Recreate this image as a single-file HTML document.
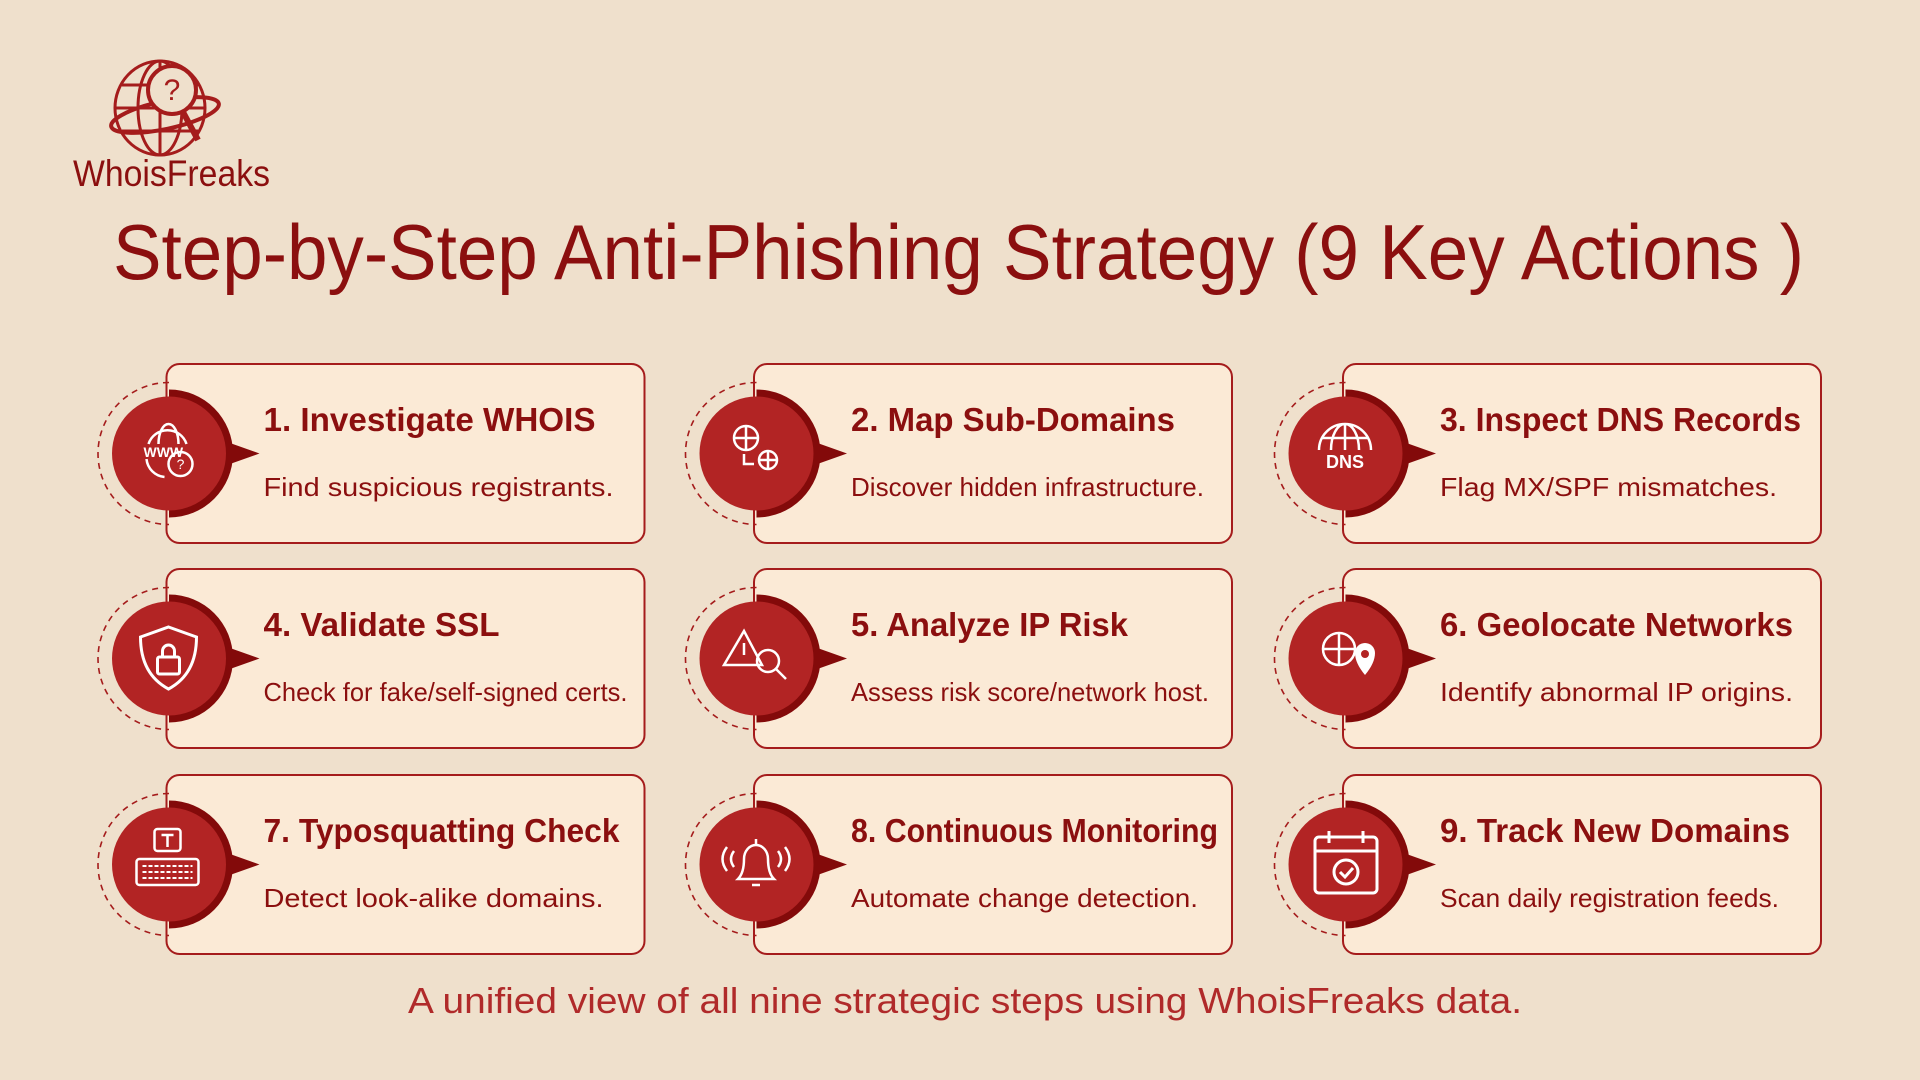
<!DOCTYPE html>
<html><head><meta charset="utf-8"><style>
html,body{margin:0;padding:0;background:#efe0cc;}
svg{display:block}
text{font-family:"Liberation Sans",sans-serif}
</style></head><body>
<svg width="1920" height="1080" viewBox="0 0 1920 1080" xmlns="http://www.w3.org/2000/svg">
<rect width="1920" height="1080" fill="#efe0cc"/>
<!-- logo -->
<g fill="none" stroke="#a51c1c" stroke-width="3">
<ellipse cx="160" cy="108" rx="45" ry="47"/>
<ellipse cx="160" cy="108" rx="22" ry="47"/>
<line x1="115" y1="108" x2="205" y2="108"/><line x1="122" y1="85" x2="198" y2="85"/><line x1="122" y1="131" x2="198" y2="131"/>
<line x1="160" y1="61" x2="160" y2="155"/>
<ellipse cx="165" cy="115" rx="55" ry="14" transform="rotate(-12 165 115)" stroke-width="4"/>
<circle cx="172" cy="90" r="24" fill="#efe0cc" stroke-width="4"/>
<line x1="183" y1="112" x2="198" y2="140" stroke-width="6"/>
</g>
<text x="172" y="100" font-size="30" fill="#a51c1c" text-anchor="middle" font-family="Liberation Serif">?</text>
<text x="73" y="186" font-size="37" fill="#8b0f0f" textLength="197" lengthAdjust="spacingAndGlyphs">WhoisFreaks</text>
<!-- title -->
<text x="113" y="279" font-size="78" fill="#8b0f0f" textLength="1691" lengthAdjust="spacingAndGlyphs">Step-by-Step Anti-Phishing Strategy (9 Key Actions )</text>
<defs>
<g id="base">
<rect x="0" y="0" width="478" height="179" rx="13" fill="#fbead6" stroke="#a51c1c" stroke-width="2"/>
<path d="M2.5 18.5 A71 71 0 0 0 2.5 160.5" fill="none" stroke="#a51c1c" stroke-width="1.6" stroke-dasharray="6 5"/>
<path d="M2.5 25.5 A64 64 0 0 1 2.5 153.5 Z" fill="#830a0a"/>
<polygon points="55,76 93,89.5 55,103" fill="#830a0a"/>
<circle cx="2.5" cy="89.5" r="57" fill="#b22424"/>
</g>
</defs>
<g id="cards">
<!-- row1 -->
<g transform="translate(166.5,364)"><use href="#base"/>
<g fill="none" stroke="#fff" stroke-width="2.5"><path d="M-18 80 a20 20 0 0 1 38 0 M-8 80 a10 20 0 0 1 20 0"/><circle cx="14" cy="100" r="12"/><path d="M-20 95 a20 20 0 0 0 18 18"/></g>
<text x="-23" y="93" font-size="14" fill="#fff" font-weight="bold">WWW</text><text x="14" y="105" font-size="14" fill="#fff" text-anchor="middle">?</text>
<text x="97" y="67" font-size="33" font-weight="bold" fill="#8b0f0f" textLength="332" lengthAdjust="spacingAndGlyphs">1. Investigate WHOIS</text>
<text x="97" y="132" font-size="26" fill="#8b0f0f" textLength="350" lengthAdjust="spacingAndGlyphs">Find suspicious registrants.</text></g>
<g transform="translate(754,364)"><use href="#base"/>
<g fill="none" stroke="#fff" stroke-width="2.5"><circle cx="-8" cy="74" r="12"/><path d="M-20 74h24M-8 62v24"/><circle cx="14" cy="96" r="9"/><path d="M5 96h18M14 87v18M-10 90v10h10"/></g>
<text x="97" y="67" font-size="33" font-weight="bold" fill="#8b0f0f" textLength="324" lengthAdjust="spacingAndGlyphs">2. Map Sub-Domains</text>
<text x="97" y="132" font-size="26" fill="#8b0f0f" textLength="353" lengthAdjust="spacingAndGlyphs">Discover hidden infrastructure.</text></g>
<g transform="translate(1343,364)"><use href="#base"/>
<g fill="none" stroke="#fff" stroke-width="2.5"><path d="M-24 86 a26 26 0 0 1 52 0 M-12 86 a14 26 0 0 1 28 0 M2 60v26 M-22 74h48"/></g>
<text x="2" y="104" font-size="18" fill="#fff" font-weight="bold" text-anchor="middle">DNS</text>
<text x="97" y="67" font-size="33" font-weight="bold" fill="#8b0f0f" textLength="361" lengthAdjust="spacingAndGlyphs">3. Inspect DNS Records</text>
<text x="97" y="132" font-size="26" fill="#8b0f0f" textLength="337" lengthAdjust="spacingAndGlyphs">Flag MX/SPF mismatches.</text></g>
<!-- row2 -->
<g transform="translate(166.5,569)"><use href="#base"/>
<g fill="none" stroke="#fff" stroke-width="3"><path d="M2 58 L30 68 Q30 105 2 120 Q-26 105 -26 68 Z"/><rect x="-9" y="88" width="22" height="17" rx="2"/><path d="M-4 88v-6a6 6 0 0 1 12 0v6"/></g>
<text x="97" y="67" font-size="33" font-weight="bold" fill="#8b0f0f" textLength="236" lengthAdjust="spacingAndGlyphs">4. Validate SSL</text>
<text x="97" y="132" font-size="26" fill="#8b0f0f" textLength="364" lengthAdjust="spacingAndGlyphs">Check for fake/self-signed certs.</text></g>
<g transform="translate(754,569)"><use href="#base"/>
<g fill="none" stroke="#fff" stroke-width="2.5"><path d="M-10 62 L-30 96 H8 Z"/><circle cx="14" cy="92" r="11"/><path d="M22 100 L32 110"/><path d="M-10 74v12"/></g>
<text x="97" y="67" font-size="33" font-weight="bold" fill="#8b0f0f" textLength="277" lengthAdjust="spacingAndGlyphs">5. Analyze IP Risk</text>
<text x="97" y="132" font-size="26" fill="#8b0f0f" textLength="358" lengthAdjust="spacingAndGlyphs">Assess risk score/network host.</text></g>
<g transform="translate(1343,569)"><use href="#base"/>
<g fill="none" stroke="#fff" stroke-width="2.5"><circle cx="-4" cy="80" r="16"/><path d="M-20 80h32M-4 64v32"/></g>
<path d="M12 84 a10 10 0 0 1 20 0 q0 10 -10 22 q-10 -12 -10 -22z" fill="#fff"/><circle cx="22" cy="85" r="4" fill="#b22424"/>
<text x="97" y="67" font-size="33" font-weight="bold" fill="#8b0f0f" textLength="353" lengthAdjust="spacingAndGlyphs">6. Geolocate Networks</text>
<text x="97" y="132" font-size="26" fill="#8b0f0f" textLength="353" lengthAdjust="spacingAndGlyphs">Identify abnormal IP origins.</text></g>
<!-- row3 -->
<g transform="translate(166.5,775)"><use href="#base"/>
<g fill="none" stroke="#fff" stroke-width="2.5"><rect x="-12" y="54" width="26" height="22" rx="3"/><path d="M-5 60h12M1 60v12"/><rect x="-30" y="84" width="62" height="26" rx="3"/><path d="M-24 91h50M-24 97h50M-24 103h50" stroke-dasharray="4 2" stroke-width="2"/></g>
<text x="97" y="67" font-size="33" font-weight="bold" fill="#8b0f0f" textLength="356" lengthAdjust="spacingAndGlyphs">7. Typosquatting Check</text>
<text x="97" y="132" font-size="26" fill="#8b0f0f" textLength="340" lengthAdjust="spacingAndGlyphs">Detect look-alike domains.</text></g>
<g transform="translate(754,775)"><use href="#base"/>
<g fill="none" stroke="#fff" stroke-width="2.5"><path d="M-16 104 Q-10 98 -10 84 a12 14 0 0 1 24 0 Q14 98 20 104 Z"/><path d="M-2 110h8M2 64v6"/><path d="M-20 76 q-6 8 0 16 M24 76 q6 8 0 16 M-27 72 q-9 12 0 24 M31 72 q9 12 0 24"/></g>
<text x="97" y="67" font-size="33" font-weight="bold" fill="#8b0f0f" textLength="367" lengthAdjust="spacingAndGlyphs">8. Continuous Monitoring</text>
<text x="97" y="132" font-size="26" fill="#8b0f0f" textLength="347" lengthAdjust="spacingAndGlyphs">Automate change detection.</text></g>
<g transform="translate(1343,775)"><use href="#base"/>
<g fill="none" stroke="#fff" stroke-width="3"><rect x="-28" y="62" width="62" height="56" rx="4"/><path d="M-28 76h62M-14 56v12M20 56v12"/><circle cx="3" cy="97" r="12"/><path d="M-3 97l5 5 8-9"/></g>
<text x="97" y="67" font-size="33" font-weight="bold" fill="#8b0f0f" textLength="350" lengthAdjust="spacingAndGlyphs">9. Track New Domains</text>
<text x="97" y="132" font-size="26" fill="#8b0f0f" textLength="339" lengthAdjust="spacingAndGlyphs">Scan daily registration feeds.</text></g>
</g>
<text x="408" y="1013" font-size="36" fill="#b02a2a" textLength="1114" lengthAdjust="spacingAndGlyphs">A unified view of all nine strategic steps using WhoisFreaks data.</text>
</svg>
</body></html>
